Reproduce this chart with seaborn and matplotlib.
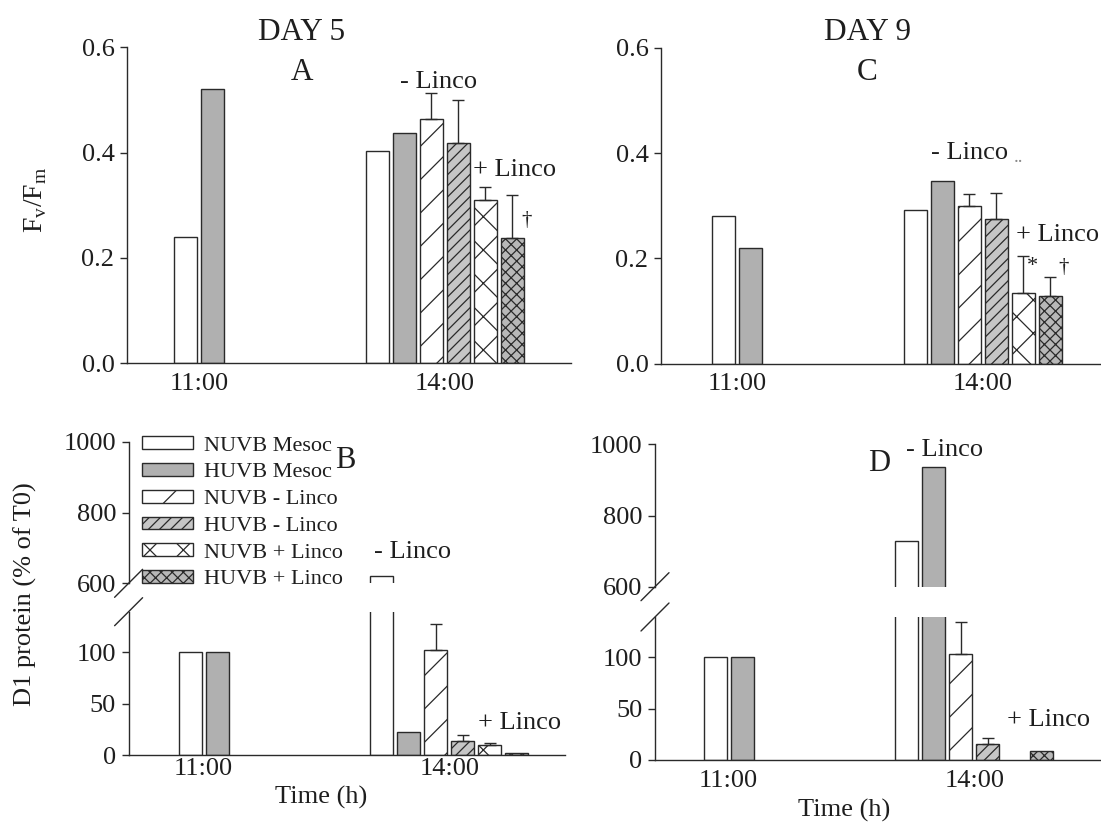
import numpy as np
import pandas as pd
import matplotlib
matplotlib.use("Agg")
import matplotlib.pyplot as plt
from matplotlib.patches import Patch
import seaborn as sns

# ---------------------------------------------------------------- data
times = ["11:00", "14:00"]
series = ["NUVB Mesoc", "HUVB Mesoc", "NUVB - Linco",
          "HUVB - Linco", "NUVB + Linco", "HUVB + Linco"]
series_1100 = ["NUVB Mesoc", "HUVB Mesoc"]

# Fv/Fm, day 5
fvfm_d5_1100 = [0.24, 0.52]
fvfm_d5_1400 = [0.403, 0.438, 0.464, 0.419, 0.310, 0.238]
fvfm_d5_err = [0.0, 0.0, 0.049, 0.081, 0.025, 0.081]

# Fv/Fm, day 9
fvfm_d9_1100 = [0.281, 0.220]
fvfm_d9_1400 = [0.291, 0.347, 0.300, 0.275, 0.135, 0.129]
fvfm_d9_err = [0.0, 0.0, 0.022, 0.050, 0.069, 0.035]

# D1 protein (% of T0), day 5
d1_d5_1100 = [100, 100]
d1_d5_1400 = [620, 22, 102, 14, 10, 2]
d1_d5_err = [0, 0, 26, 5.5, 1.5, 0]

# D1 protein (% of T0), day 9 (no NUVB + Linco value)
d1_d9_1100 = [100, 100]
d1_d9_1400 = [728, 935, 103, 15.5, np.nan, 9]
d1_d9_err = [0, 0, 31, 6, 0, 0]

# ---------------------------------------------------------------- style
sns.set_theme(style="ticks")
plt.rcParams["font.family"] = ["Liberation Serif", "DejaVu Serif"]
plt.rcParams["mathtext.fontset"] = "custom"
plt.rcParams["mathtext.rm"] = "Liberation Serif"
plt.rcParams["hatch.linewidth"] = 0.9

INK = "#1e1e1e"
EDGE = "#2a2a2a"
plt.rcParams["hatch.color"] = EDGE

bar_style = {
    "NUVB Mesoc":   dict(fc="white",   hatch=None),
    "HUVB Mesoc":   dict(fc="#b0b0b0", hatch=None),
    "NUVB - Linco": dict(fc="white",   hatch="/"),
    "HUVB - Linco": dict(fc="#c6c6c6", hatch="///"),
    "NUVB + Linco": dict(fc="white",   hatch="x"),
    "HUVB + Linco": dict(fc="#b8b8b8", hatch="xxx"),
}

GROUP_CENTER = {"11:00": 0.0, "14:00": 9.1}
BAR_W = 0.85


def panel_frame(v1100, v1400, err1400):
    rows = []
    for name, v in zip(series_1100, v1100):
        rows.append(("11:00", name, v, 0.0))
    for name, v, e in zip(series, v1400, err1400):
        rows.append(("14:00", name, v, e))
    df = pd.DataFrame(rows, columns=["time", "series", "value", "err"])
    pos = []
    for t, grp in df.groupby("time", sort=False):
        n = len(grp)
        pos.extend(GROUP_CENTER[t] + np.arange(n) - (n - 1) / 2)
    df["pos"] = pos
    return df


def draw_bars(axes_list, df):
    for _, r in df.iterrows():
        if np.isnan(r["value"]):
            continue
        st = bar_style[r["series"]]
        for ax in axes_list:
            n0 = len(ax.patches)
            sns.barplot(x=[r["pos"]], y=[r["value"]], native_scale=True,
                        orient="x", width=BAR_W, color=st["fc"],
                        saturation=1, errorbar=None, ax=ax)
            for p in ax.patches[n0:]:
                p.set_edgecolor(EDGE)
                p.set_linewidth(1.0)
                if st["hatch"]:
                    p.set_hatch(st["hatch"])
            if r["err"] > 0:
                ax.errorbar([r["pos"]], [r["value"]], yerr=[[0], [r["err"]]],
                            fmt="none", ecolor=EDGE, elinewidth=1.0,
                            capsize=4, capthick=1.0)


W, H = 1101, 824
fig = plt.figure(figsize=(W / 100, H / 100), dpi=100)


def px_axes(left, right, top, bottom):
    return fig.add_axes([left / W, 1 - bottom / H,
                         (right - left) / W, (bottom - top) / H])


def style_axes(ax, xlim, ylim, yticks, ylabels, show_x=True, xpad=6):
    ax.set_facecolor("white")
    ax.set_xlim(*xlim)
    ax.set_ylim(*ylim)
    ax.set_yticks(yticks)
    ax.set_yticklabels(ylabels)
    ax.tick_params(axis="y", direction="out", length=5, width=1,
                   color=EDGE, labelsize=19, labelcolor=INK, pad=4)
    for s in ("top", "right"):
        ax.spines[s].set_visible(False)
    for s in ("left", "bottom"):
        ax.spines[s].set_color(EDGE)
        ax.spines[s].set_linewidth(1.0)
    if show_x:
        ax.set_xticks([GROUP_CENTER[t] for t in times])
        ax.set_xticklabels(times)
        ax.tick_params(axis="x", length=0, labelsize=19,
                       labelcolor=INK, pad=xpad)
    else:
        ax.spines["bottom"].set_visible(False)
        ax.set_xticks([])
    ax.set_xlabel("")
    ax.set_ylabel("")


def break_marks(ax, where):
    bb = ax.get_position()
    dx = 14 / (bb.width * W)
    dy = 14 / (bb.height * H)
    y0 = 0 if where == "bottom" else 1
    ax.plot([-dx, dx], [y0 - dy, y0 + dy], transform=ax.transAxes,
            color=EDGE, lw=1.0, clip_on=False)


# ---------------------------------------------------------------- panel A
axA = px_axes(127, 571, 47.3, 363)
dfA = panel_frame(fvfm_d5_1100, fvfm_d5_1400, fvfm_d5_err)
draw_bars([axA], dfA)
style_axes(axA, (-2.67, 13.78), (0, 0.6), [0, 0.2, 0.4, 0.6],
           ["0.0", "0.2", "0.4", "0.6"], xpad=7)
axA.text(3.81, 0.629, "DAY 5", ha="center", va="center", fontsize=22.5, color=INK, clip_on=False)
axA.text(3.81, 0.553, "A", ha="center", va="center", fontsize=22.5, color=INK)
axA.text(8.87, 0.534, "- Linco", ha="center", va="center", fontsize=19, color=INK)
axA.text(11.7, 0.367, "+ Linco", ha="center", va="center", fontsize=19, color=INK)
axA.text(12.15, 0.270, "\u2020", ha="center", va="center", fontsize=15, color=INK)

# ---------------------------------------------------------------- panel C
axC = px_axes(661, 1101, 48, 363.5)
dfC = panel_frame(fvfm_d9_1100, fvfm_d9_1400, fvfm_d9_err)
draw_bars([axC], dfC)
style_axes(axC, (-2.81, 13.48), (0, 0.6), [0, 0.2, 0.4, 0.6],
           ["0.0", "0.2", "0.4", "0.6"], xpad=7)
axC.text(4.84, 0.630, "DAY 9", ha="center", va="center", fontsize=22.5, color=INK, clip_on=False)
axC.text(4.84, 0.554, "C", ha="center", va="center", fontsize=22.5, color=INK)
axC.text(8.63, 0.400, "- Linco", ha="center", va="center", fontsize=19, color=INK)
axC.text(10.25, 0.392, "..", ha="left", va="center", fontsize=14, color="#888888")
axC.text(10.33, 0.244, "+ Linco", ha="left", va="center", fontsize=19, color=INK)
axC.text(10.96, 0.184, "*", ha="center", va="center", fontsize=16, color=INK)
axC.text(12.1, 0.182, "\u2020", ha="center", va="center", fontsize=15, color=INK)

# ---------------------------------------------------------------- panel B
xlimB = (-2.78, 13.39)
axB_hi = px_axes(128.6, 565, 442, 583.3)
axB_lo = px_axes(128.6, 565, 611.7, 755)
dfB = panel_frame(d1_d5_1100, d1_d5_1400, d1_d5_err)
draw_bars([axB_hi, axB_lo], dfB)
style_axes(axB_hi, xlimB, (600, 1000), [600, 800, 1000],
           ["600", "800", "1000"], show_x=False)
style_axes(axB_lo, xlimB, (0, 139.5), [0, 50, 100], ["0", "50", "100"], xpad=2)
break_marks(axB_hi, "bottom")
break_marks(axB_lo, "top")
axB_hi.text(5.24, 948, "B", ha="center", va="center", fontsize=22, color=INK)
axB_hi.text(7.73, 688, "- Linco", ha="center", va="center", fontsize=19, color=INK)
axB_lo.text(11.7, 31, "+ Linco", ha="center", va="center", fontsize=19, color=INK)

handles = [Patch(facecolor=bar_style[s]["fc"], edgecolor=EDGE,
                 hatch=bar_style[s]["hatch"], linewidth=1.0) for s in series]
axB_hi.legend(handles, series, loc="upper left", bbox_to_anchor=(0.030, 1.04),
              frameon=False, fontsize=16, handlelength=2.3, handleheight=0.5,
              handletextpad=0.5, labelspacing=0.34, borderpad=0,
              borderaxespad=0, labelcolor=INK)

# ---------------------------------------------------------------- panel D
xlimD = (-2.73, 13.79)
axD_hi = px_axes(655, 1101, 444.3, 586.7)
axD_lo = px_axes(655, 1101, 617, 760)
dfD = panel_frame(d1_d9_1100, d1_d9_1400, d1_d9_err)
draw_bars([axD_hi, axD_lo], dfD)
style_axes(axD_hi, xlimD, (600, 1000), [600, 800, 1000],
           ["600", "800", "1000"], show_x=False)
style_axes(axD_lo, xlimD, (0, 139), [0, 50, 100], ["0", "50", "100"], xpad=7)
break_marks(axD_hi, "bottom")
break_marks(axD_lo, "top")
axD_hi.text(5.59, 947, "D", ha="center", va="center", fontsize=22, color=INK)
axD_hi.text(8.01, 984, "- Linco", ha="center", va="center", fontsize=19, color=INK)
axD_lo.text(11.85, 38.7, "+ Linco", ha="center", va="center", fontsize=19, color=INK)

# ---------------------------------------------------------------- axis titles
fig.text(36 / W, 1 - 200 / H, r"F$_\mathregular{v}$/F$_\mathregular{m}$",
         rotation=90, ha="center", va="center", fontsize=20, color=INK)
fig.text(25 / W, 1 - 594 / H, "D1 protein (% of T0)", rotation=90,
         ha="center", va="center", fontsize=19, color=INK)
fig.text(321 / W, 1 - 797 / H, "Time (h)", ha="center", va="center",
         fontsize=19, color=INK)
fig.text(844 / W, 1 - 810 / H, "Time (h)", ha="center", va="center",
         fontsize=19, color=INK)

fig.savefig("out.png", dpi=100, facecolor="white")
